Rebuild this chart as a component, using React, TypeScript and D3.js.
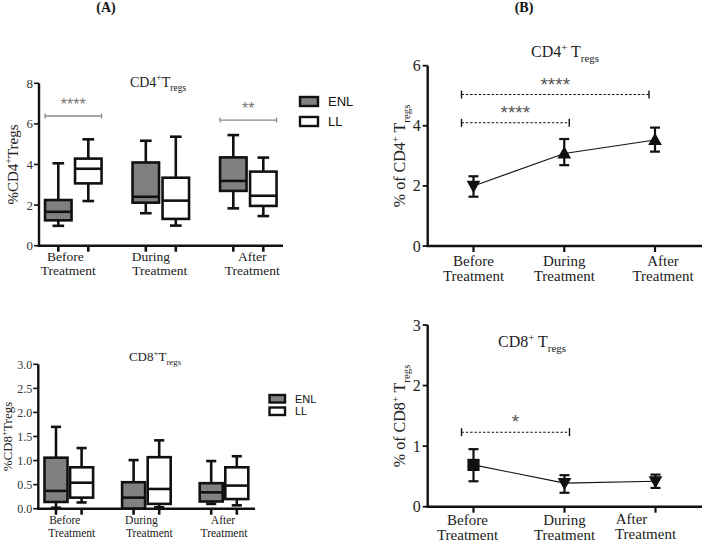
import React from 'react';
import * as d3 from 'd3';

// ---------- data ----------
const categories = ['Before Treatment', 'During Treatment', 'After Treatment'];
const seriesNames = ['ENL', 'LL'];
// box stats: [whiskerLow, q1, median, q3, whiskerHigh]
const cd4ENL = [[0.98, 1.25, 1.67, 2.25, 4.06], [1.6, 2.12, 2.41, 4.1, 5.17], [1.84, 2.7, 3.19, 4.35, 5.45]];
const cd4LL = [[2.2, 3.07, 3.79, 4.29, 5.24], [0.99, 1.32, 2.22, 3.35, 5.37], [1.46, 1.96, 2.46, 3.65, 4.34]];
const cd8ENL = [[0.02, 0.14, 0.37, 1.06, 1.7], [0.0, 0.0, 0.23, 0.55, 1.01], [0.1, 0.15, 0.34, 0.53, 0.99]];
const cd8LL = [[0.13, 0.23, 0.54, 0.86, 1.26], [0.03, 0.1, 0.41, 1.07, 1.42], [0.07, 0.2, 0.48, 0.86, 1.09]];
const cd4Ticks = [0, 2, 4, 6, 8];
const cd8Ticks = [0, 0.5, 1, 1.5, 2, 2.5, 3];
// line panels: mean with error bars
const cd4Mean = [2.0, 3.08, 3.53];
const cd4Low = [1.64, 2.69, 3.14];
const cd4High = [2.32, 3.56, 3.94];
const cd8Mean = [0.69, 0.39, 0.42];
const cd8Low = [0.42, 0.23, 0.31];
const cd8High = [0.95, 0.52, 0.53];
const cd4LineTicks = [0, 2, 4, 6];
const cd8LineTicks = [0, 1, 2, 3];
// significance: [fromIndex, toIndex, yValue, label]
const sigA4 = [[0, 0, 6.39, '****'], [2, 2, 6.19, '**']];
const sigB4 = [[0, 2, 5.04, '****'], [0, 1, 4.1, '****']];
const sigB8 = [[0, 1, 1.23, '*']];

const SERIF = '"Liberation Serif", "Times New Roman", serif';
const SANS = '"Liberation Sans", Arial, sans-serif';
const ENL_FILL = '#808080';

function Label({ x, y, size, parts, rotate = false, anchor = 'middle', fill = '#222', weight = 'normal' }: any) {
  let cur = 0;
  const spans = parts.map(([t, m]: any, i: number) => {
    const target = m === 'sup' ? -size * 0.4 : m === 'sub' ? size * 0.3 : 0;
    const dy = target - cur;
    cur = target;
    return (
      <tspan key={i} dy={dy} fontSize={m === 'n' ? size : size * 0.68}>{t}</tspan>
    );
  });
  return (
    <text x={rotate ? 0 : x} y={rotate ? 0 : y} transform={rotate ? `translate(${x},${y}) rotate(-90)` : undefined}
      textAnchor={anchor} fontFamily={SERIF} fontSize={size} fill={fill} fontWeight={weight}>{spans}</text>
  );
}

function CatLabels({ xs, y, size, lh, offsets }: any) {
  return (
    <g>
      {categories.map((c, i) => {
        const [a, b] = c.split(' ');
        const o = offsets ? offsets[i] : [0, 0, 0, 0];
        return (
          <g key={c}>
            <text x={xs[i] + o[0]} y={y + o[1]} textAnchor="middle" fontFamily={SERIF} fontSize={size} fill="#222">{a}</text>
            <text x={xs[i] + o[2]} y={y + lh + o[3]} textAnchor="middle" fontFamily={SERIF} fontSize={size} fill="#222">{b}</text>
          </g>
        );
      })}
    </g>
  );
}

function BoxPanel({ enl, ll, ticks, fmt, x0, x1, yTop, yBot, pMin, pMax, off, bw, tickSize, title, ylabel, ylabelX, legend, sig, labY, labSize, labLh, labOff }: any) {
  const y = d3.scaleLinear().domain([ticks[0], ticks[ticks.length - 1]]).range([yBot, yTop]);
  const x = d3.scalePoint().domain(categories).range([pMin, pMax]);
  const boxes: any[] = [];
  [enl, ll].forEach((ser: number[][], s: number) => {
    ser.forEach((st, i) => {
      const cx = (x(categories[i]) as number) + (s === 0 ? -off : off);
      const [w0, q1, md, q3, w1] = st;
      boxes.push(
        <g key={`${s}-${i}`} stroke="#111" strokeWidth={2.6}>
          <line x1={cx} x2={cx} y1={y(w1)} y2={y(q3)} />
          <line x1={cx} x2={cx} y1={y(q1)} y2={y(w0)} />
          <line x1={cx - bw * 0.22} x2={cx + bw * 0.22} y1={y(w1)} y2={y(w1)} />
          <line x1={cx - bw * 0.22} x2={cx + bw * 0.22} y1={y(w0)} y2={y(w0)} />
          <rect x={cx - bw / 2} y={y(q3)} width={bw} height={Math.max(0.01, y(q1) - y(q3))} fill={s === 0 ? ENL_FILL : '#fff'} />
          <line x1={cx - bw / 2} x2={cx + bw / 2} y1={y(md)} y2={y(md)} />
          <line x1={cx} x2={cx} y1={yBot} y2={yBot + 6} />
        </g>
      );
    });
  });
  return (
    <g>
      {boxes}
      <line x1={x0} x2={x0} y1={yTop} y2={yBot} stroke="#111" strokeWidth={2.4} />
      <line x1={x0 - 1.2} x2={x1} y1={yBot} y2={yBot} stroke="#111" strokeWidth={2.4} />
      {ticks.map((t: number) => (
        <g key={t}>
          <line x1={x0 - 5} x2={x0} y1={y(t)} y2={y(t)} stroke="#111" strokeWidth={1.6} />
          <text x={x0 - 6} y={y(t) + tickSize * 0.35} textAnchor="end" fontFamily={SERIF} fontSize={tickSize} fill="#333">{fmt(t)}</text>
        </g>
      ))}
      {sig.map(([a, b, v, lab]: any, k: number) => {
        const xa = (x(categories[a]) as number) - off - bw / 2;
        const xb = (x(categories[b]) as number) + off + bw / 2;
        return (
          <g key={k} stroke="#888" strokeWidth={1.3}>
            <line x1={xa} x2={xb} y1={y(v)} y2={y(v)} />
            <line x1={xa} x2={xa} y1={y(v) - 2.5} y2={y(v) + 2.5} />
            <line x1={xb} x2={xb} y1={y(v) - 2.5} y2={y(v) + 2.5} />
            <text x={(xa + xb) / 2} y={y(v) - 6} textAnchor="middle" fontFamily={SANS} fontSize={16} fill="#777" stroke="none">{lab}</text>
          </g>
        );
      })}
      <Label x={title.x} y={title.y} size={title.size} parts={title.parts} />
      <Label x={ylabelX} y={(yTop + yBot) / 2} size={ylabel.size} parts={ylabel.parts} rotate />
      {seriesNames.map((n, i) => (
        <g key={n}>
          <rect x={legend.x} y={legend.y + i * legend.gap} width={legend.w} height={legend.h} fill={i === 0 ? ENL_FILL : '#fff'} stroke="#111" strokeWidth={2.4} />
          <text x={legend.x + legend.w + 10} y={legend.y + i * legend.gap + legend.h / 2 + legend.fs * 0.36} fontFamily={SANS} fontSize={legend.fs} fill="#111">{n}</text>
        </g>
      ))}
      <CatLabels xs={categories.map((c) => x(c))} y={labY} size={labSize} lh={labLh} offsets={labOff} />
    </g>
  );
}

function Marker({ kind, cx, cy }: any) {
  const s = 5;
  if (kind === 'square') return <rect x={cx - s} y={cy - s} width={2 * s} height={2 * s} fill="#111" />;
  if (kind === 'down') return <path d={`M${cx - s},${cy - s * 0.8}L${cx + s},${cy - s * 0.8}L${cx},${cy + s}Z`} fill="#111" />;
  return <path d={`M${cx - s},${cy + s * 0.8}L${cx + s},${cy + s * 0.8}L${cx},${cy - s}Z`} fill="#111" />;
}

function LinePanel({ mean, lo, hi, ticks, markers, x0, x1, yTop, yBot, pMin, pMax, title, ylabel, ylabelX, sig, labY, labLh, labOff }: any) {
  const y = d3.scaleLinear().domain([ticks[0], ticks[ticks.length - 1]]).range([yBot, yTop]);
  const x = d3.scalePoint().domain(categories).range([pMin, pMax]);
  const pts = mean.map((m: number, i: number) => [x(categories[i]) as number, y(m)]);
  const line = d3.line();
  return (
    <g>
      <path d={line(pts) as string} fill="none" stroke="#111" strokeWidth={1.1} />
      {mean.map((m: number, i: number) => {
        const cx = x(categories[i]) as number;
        return (
          <g key={i} stroke="#111" strokeWidth={2.2}>
            <line x1={cx} x2={cx} y1={y(hi[i])} y2={y(lo[i])} />
            <line x1={cx - 5} x2={cx + 5} y1={y(hi[i])} y2={y(hi[i])} />
            <line x1={cx - 5} x2={cx + 5} y1={y(lo[i])} y2={y(lo[i])} />
            <line x1={cx} x2={cx} y1={yBot} y2={yBot + 6} />
            <Marker kind={markers[i]} cx={cx} cy={y(m)} />
          </g>
        );
      })}
      <line x1={x0} x2={x0} y1={yTop} y2={yBot} stroke="#111" strokeWidth={2.4} />
      <line x1={x0 - 1.2} x2={x1} y1={yBot} y2={yBot} stroke="#111" strokeWidth={2.4} />
      {ticks.map((t: number) => (
        <g key={t}>
          <line x1={x0 - 5} x2={x0} y1={y(t)} y2={y(t)} stroke="#111" strokeWidth={1.8} />
          <text x={x0 - 7} y={y(t) + 5.5} textAnchor="end" fontFamily={SERIF} fontSize={16} fill="#222">{t}</text>
        </g>
      ))}
      {sig.map(([a, b, v, lab]: any, k: number) => {
        const xa = (x(categories[a]) as number) - 12;
        const xb = b === a ? xa + 40 : (x(categories[b]) as number) + (b === 2 ? -6 : 5);
        return (
          <g key={k} stroke="#111" strokeWidth={1.1}>
            <line x1={xa} x2={xb} y1={y(v)} y2={y(v)} strokeDasharray="2.5,1.8" />
            <line x1={xa} x2={xa} y1={y(v) - 4} y2={y(v) + 4} strokeWidth={1.4} />
            <line x1={xb} x2={xb} y1={y(v) - 4} y2={y(v) + 4} strokeWidth={1.4} />
            <text x={(xa + xb) / 2} y={y(v) - 4} textAnchor="middle" fontFamily={SANS} fontSize={19} fill="#555" stroke="none">{lab}</text>
          </g>
        );
      })}
      <Label x={title.x} y={title.y} size={16} parts={title.parts} />
      <Label x={ylabelX} y={(yTop + yBot) / 2} size={16} parts={ylabel} rotate />
      <CatLabels xs={categories.map((c) => x(c))} y={labY} size={15} lh={labLh} offsets={labOff} />
    </g>
  );
}

export default function App() {
  return (
    <svg width={703} height={541} style={{ position: 'absolute', left: 0, top: 0, background: '#fff' }}>
      <rect width={703} height={541} fill="#fff" />
      <text x={106} y={12} textAnchor="middle" fontFamily={SERIF} fontSize={14} fontWeight="bold" fill="#111">(A)</text>
      <text x={524} y={12} textAnchor="middle" fontFamily={SERIF} fontSize={14} fontWeight="bold" fill="#111">(B)</text>

      <BoxPanel enl={cd4ENL} ll={cd4LL} ticks={cd4Ticks} fmt={(t: number) => String(t)}
        x0={39} x1={283} yTop={83.3} yBot={245.7} pMin={73.3} pMax={248.3} off={15} bw={26.5} tickSize={13}
        title={{ x: 158, y: 87, size: 14, parts: [['CD4', 'n'], ['+', 'sup'], ['T', 'n'], ['regs', 'sub']] }}
        ylabel={{ size: 15, parts: [['%CD4', 'n'], ['+', 'sup'], ['Tregs', 'n']] }} ylabelX={18}
        legend={{ x: 300, y: 97, w: 18, h: 9, gap: 20, fs: 13 }}
        sig={sigA4} labY={261} labSize={13.5} labLh={14} labOff={[[-8, 0, -5, 0], [-10, 0, -1, 0], [4, 0, 4, 0]]} />

      <BoxPanel enl={cd8ENL} ll={cd8LL} ticks={cd8Ticks} fmt={d3.format('.1f')}
        x0={38.3} x1={255} yTop={364.3} yBot={508.7} pMin={68.8} pMax={224} off={12.8} bw={23} tickSize={12}
        title={{ x: 155, y: 361, size: 13, parts: [['CD8', 'n'], ['+', 'sup'], ['T', 'n'], ['regs', 'sub']] }}
        ylabel={{ size: 13, parts: [['%CD8', 'n'], ['+', 'sup'], ['Tregs', 'n']] }} ylabelX={12}
        legend={{ x: 269.5, y: 395, w: 15.5, h: 7.5, gap: 12.5, fs: 11 }}
        sig={[]} labY={524} labSize={11.5} labLh={12.5} labOff={[[-4, 0, 3, 0], [-5, 0, 3, 0], [-1, 0, 0, 0]]} />

      <LinePanel mean={cd4Mean} lo={cd4Low} hi={cd4High} ticks={cd4LineTicks} markers={['down', 'up', 'up']}
        x0={427.7} x1={702} yTop={65.7} yBot={246} pMin={473.5} pMax={655}
        title={{ x: 565, y: 57, parts: [['CD4', 'n'], ['+', 'sup'], [' T', 'n'], ['regs', 'sub']] }}
        ylabel={[['%  of CD4', 'n'], ['+', 'sup'], [' T', 'n'], ['regs', 'sub']]} ylabelX={405}
        sig={sigB4} labY={266} labLh={14.5} labOff={[[0, 0, 0, 0], [0, 0, 0, 0], [8, 0, 8, 0]]} />

      <LinePanel mean={cd8Mean} lo={cd8Low} hi={cd8High} ticks={cd8LineTicks} markers={['square', 'down', 'down']}
        x0={427.7} x1={702} yTop={325} yBot={506.7} pMin={473.5} pMax={655.5}
        title={{ x: 532, y: 347, parts: [['CD8', 'n'], ['+', 'sup'], [' T', 'n'], ['regs', 'sub']] }}
        ylabel={[['%  of CD8', 'n'], ['+', 'sup'], [' T', 'n'], ['regs', 'sub']]} ylabelX={405}
        sig={sigB8} labY={525} labLh={14.5} labOff={[[-6, 0, -6, 0], [0, 0, 0, 0], [-24, -1, -10, -1]]} />
    </svg>
  );
}
